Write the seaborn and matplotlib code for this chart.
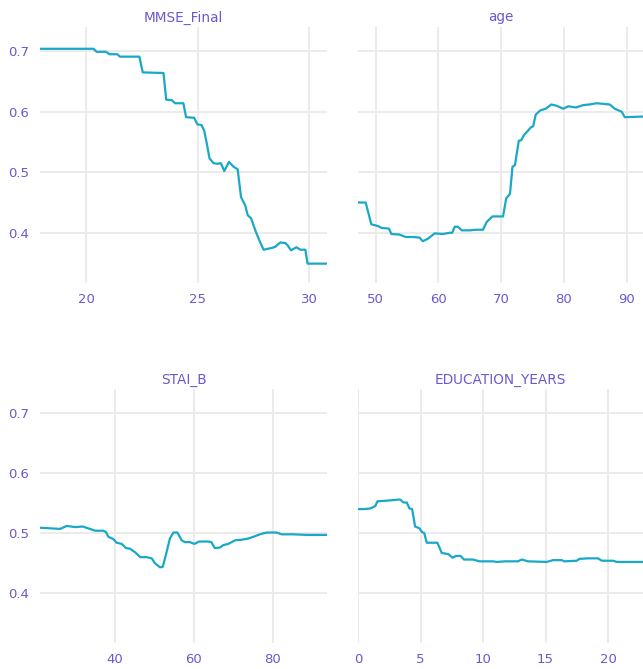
import numpy as np
import pandas as pd
import matplotlib
matplotlib.use("Agg")
import matplotlib.pyplot as plt
import seaborn as sns

# ---- data ----
mmse_x = [17.94, 20.33, 20.48, 20.9, 21.05, 21.4, 21.52, 22.39, 22.54, 23.47, 23.59, 23.84, 23.99, 24.36,
          24.48, 24.84, 24.99, 25.17, 25.29, 25.41, 25.53, 25.71, 25.89, 26.04, 26.19, 26.40, 26.61, 26.79,
          26.94, 27.13, 27.24, 27.39, 27.58, 27.73, 27.95, 28.33, 28.48, 28.70, 28.93, 29.03, 29.18, 29.42,
          29.60, 29.82, 29.92, 30.79]
mmse_y = [0.704, 0.704, 0.699, 0.699, 0.695, 0.695, 0.691, 0.691, 0.665, 0.664, 0.620, 0.619, 0.614, 0.614,
          0.591, 0.590, 0.579, 0.578, 0.569, 0.547, 0.523, 0.515, 0.514, 0.515, 0.502, 0.517, 0.509, 0.505,
          0.459, 0.445, 0.429, 0.424, 0.404, 0.390, 0.372, 0.375, 0.377, 0.384, 0.383, 0.379, 0.371, 0.376,
          0.372, 0.372, 0.349, 0.349]

age_x = [47.18, 48.4, 49.3, 50.4, 50.9, 52.1, 52.5, 53.8, 54.8, 55.9, 57.0, 57.5, 58.3, 59.4, 60.7, 61.8,
         62.2, 62.6, 63.1, 63.7, 65.0, 66.0, 67.1, 67.7, 68.6, 70.3, 70.8, 71.4, 71.8, 72.2, 72.8, 73.2,
         73.6, 74.3, 74.7, 75.1, 75.5, 76.2, 77.1, 78.0, 78.8, 79.9, 80.7, 81.9, 83.1, 84.1, 85.2, 87.3,
         88.1, 89.2, 89.7, 92.6]
age_y = [0.450, 0.450, 0.414, 0.411, 0.408, 0.407, 0.398, 0.397, 0.393, 0.393, 0.392, 0.386, 0.390, 0.399,
         0.398, 0.400, 0.400, 0.410, 0.410, 0.404, 0.404, 0.405, 0.405, 0.418, 0.427, 0.427, 0.457, 0.464,
         0.509, 0.512, 0.552, 0.553, 0.561, 0.569, 0.574, 0.576, 0.595, 0.602, 0.605, 0.612, 0.610, 0.605,
         0.609, 0.607, 0.611, 0.612, 0.614, 0.612, 0.605, 0.600, 0.591, 0.592]

stai_x = [21.0, 26.1, 27.8, 29.9, 31.8, 33.2, 35.0, 37.0, 37.7, 38.3, 39.6, 40.4, 41.7, 42.8, 43.8, 45.1,
          46.4, 48.0, 49.3, 50.1, 51.4, 52.1, 52.9, 53.9, 54.8, 55.8, 56.9, 57.7, 59.0, 60.1, 61.3, 63.6,
          64.4, 65.3, 66.6, 67.4, 68.7, 70.4, 72.1, 73.8, 75.1, 76.7, 78.4, 80.9, 82.2, 85.1, 88.5, 93.7]
stai_y = [0.509, 0.507, 0.512, 0.510, 0.511, 0.508, 0.504, 0.504, 0.502, 0.494, 0.490, 0.484, 0.482, 0.475,
          0.474, 0.468, 0.460, 0.460, 0.458, 0.450, 0.443, 0.444, 0.464, 0.491, 0.501, 0.501, 0.488, 0.485,
          0.485, 0.482, 0.486, 0.486, 0.485, 0.475, 0.476, 0.480, 0.482, 0.488, 0.489, 0.491, 0.494, 0.498,
          0.501, 0.501, 0.498, 0.498, 0.497, 0.497]

edu_x = [0.0, 0.4, 0.98, 1.38, 1.56, 2.3, 3.37, 3.64, 3.9, 4.12, 4.33, 4.57, 4.92, 5.1, 5.3, 5.5, 6.35,
         6.7, 7.23, 7.57, 7.84, 8.2, 8.48, 9.2, 9.7, 10.8, 11.1, 11.8, 12.8, 13.1, 13.6, 15.1, 15.6, 16.3,
         16.5, 17.5, 17.7, 18.4, 19.2, 19.5, 20.4, 20.7, 22.8]
edu_y = [0.540, 0.540, 0.541, 0.545, 0.553, 0.554, 0.556, 0.551, 0.551, 0.541, 0.540, 0.511, 0.508, 0.502,
         0.500, 0.484, 0.484, 0.467, 0.465, 0.459, 0.462, 0.462, 0.456, 0.456, 0.453, 0.453, 0.452, 0.453,
         0.453, 0.456, 0.453, 0.452, 0.455, 0.455, 0.453, 0.454, 0.457, 0.458, 0.458, 0.454, 0.454, 0.452,
         0.452]

features = ["MMSE_Final", "age", "STAI_B", "EDUCATION_YEARS"]
xs = [mmse_x, age_x, stai_x, edu_x]
ys = [mmse_y, age_y, stai_y, edu_y]
xticks = [[20, 25, 30], [50, 60, 70, 80, 90], [40, 60, 80], [0, 5, 10, 15, 20]]
yticks = [0.4, 0.5, 0.6, 0.7]

LINE = "#19a8c7"
TEXT = "#6a5acd"
GRID = "#ebebeb"

sns.set_style("white")
plt.rcParams['font.family'] = ['DejaVu Sans']

W, H = 643, 669
fig = plt.figure(figsize=(W / 100, H / 100), dpi=100)

# axes boxes in pixels: left, top, right, bottom
boxes = [(40, 27, 327, 283), (358, 27, 643, 283), (40, 389, 327, 643), (358, 389, 643, 643)]

for i, (name, x, y, xt, box) in enumerate(zip(features, xs, ys, xticks, boxes)):
    l, t, r, b = box
    ax = fig.add_axes([l / W, 1 - b / H, (r - l) / W, (b - t) / H])
    df = pd.DataFrame({"value": x, "pd": y})
    sns.lineplot(data=df, x="value", y="pd", ax=ax, color=LINE, linewidth=1.6, estimator=None, sort=False)
    ax.set_xlim(min(x), max(x))
    ax.set_ylim(0.317, 0.74)
    ax.set_xticks(xt)
    ax.set_yticks(yticks)
    ax.grid(True, color=GRID, linewidth=1.4)
    ax.set_axisbelow(True)
    for s in ax.spines.values():
        s.set_visible(False)
    ax.tick_params(axis="both", length=0, colors=TEXT, labelsize=9.5)
    ax.tick_params(axis="x", pad=7)
    ax.tick_params(axis="y", pad=8)
    if i % 2 == 1:
        ax.set_yticklabels([])
    else:
        ax.set_yticklabels([f"{v:.1f}" for v in yticks])
    ax.set_xlabel("")
    ax.set_ylabel("")
    ax.set_title(name, color=TEXT, fontsize=9.8, pad=4)

fig.savefig("out.png", dpi=100)
